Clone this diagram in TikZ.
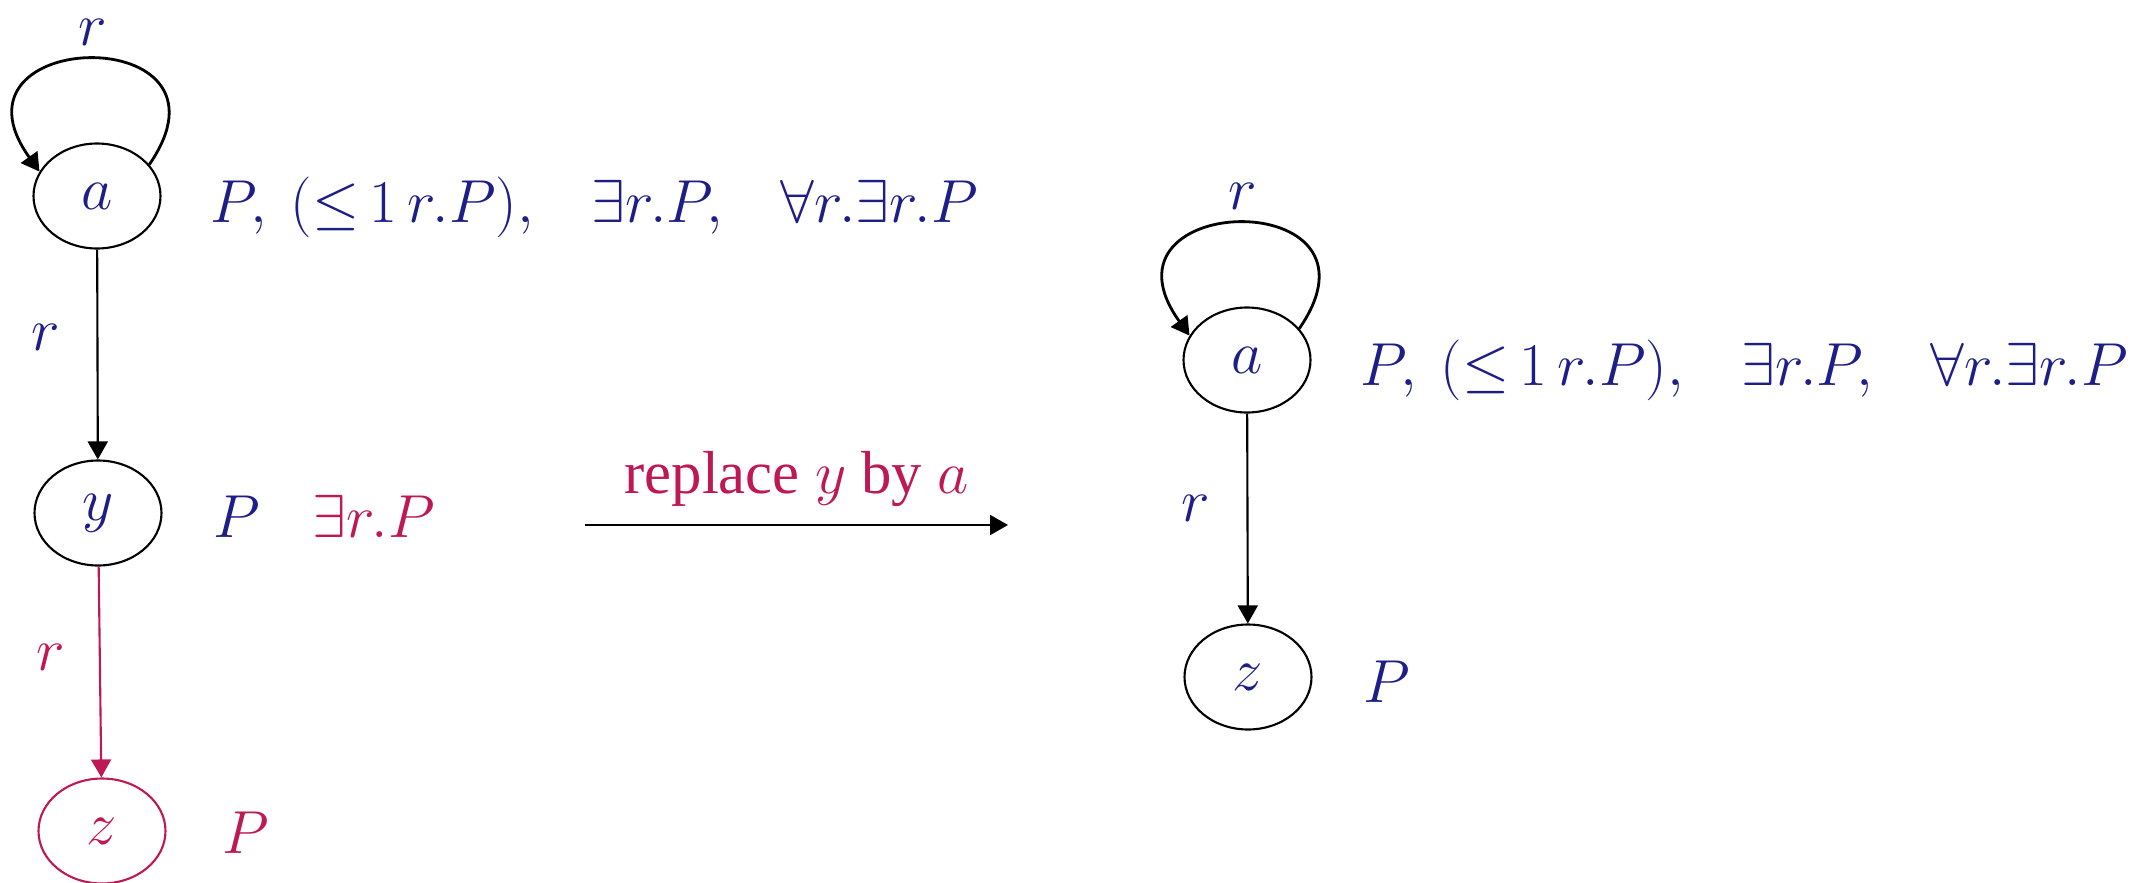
\documentclass[tikz,border=0pt]{standalone}
\usepackage[no-math]{fontspec}
\newfontfamily\rmtimes{Liberation Serif}
\usetikzlibrary{positioning, arrows.meta, shapes.geometric}
\definecolor{dlBlue}{RGB}{30, 30, 135}
\definecolor{dlRed}{RGB}{190, 25, 85}
\tikzset{
  indiv/.style={ellipse, draw, line width=0.6pt, minimum width=1.27cm,
                minimum height=1.05cm, inner sep=0pt, text=dlBlue},
  roleedge/.style={-{Triangle[length=0.18cm, width=0.2cm]}, line width=0.6pt},
  roleloop/.style={roleedge, line width=0.8pt},
  conlbl/.style={anchor=base west, inner sep=0pt, text=dlBlue},
  rolelbl/.style={inner sep=0pt, text=dlBlue},
}
\newcommand{\gapC}{\mskip14mu}
\newcommand{\conA}{$P,\mskip4mu ({\leq}\mskip3mu 1\,r.P),\gapC \exists r.P,\gapC \forall r.\exists r.P$}

\begin{document}
\begin{tikzpicture}[font=\fontsize{17.28}{21}\selectfont]
        \useasboundingbox (0, 0) rectangle (21.53, 8.82);

        % ── Before: a --r--> y --r--> z ─────────────────────────────────
        \node[indiv] (a1) at (0.97, 6.86) {$a$};
        \node[indiv] (y1) at (0.98, 3.69) {$y$};
        \node[indiv, draw=dlRed, text=dlRed] (z1) at (1.02, 0.51) {$z$};

        \draw[roleloop] (a1.31) .. controls +(1.00, 1.45) and +(-1.04, 1.45)
              .. node[rolelbl, above=0.12cm] {$r$} (a1.157);
        \draw[roleedge] (a1) -- node[rolelbl, pos=0.42, left=0.36cm] {$r$} (y1);
        \draw[roleedge, dlRed] (y1) -- node[rolelbl, text=dlRed, pos=0.43,
              left=0.34cm] {$r$} (z1);

        \node[conlbl] (a1C) at (2.10, 6.60) {\conA};
        \node[conlbl] (y1C) at (2.13, 3.45) {$P$};
        \node[conlbl, text=dlRed] (y1D) at (3.12, 3.45) {$\exists r.P$};
        \node[conlbl, text=dlRed] (z1C) at (2.22, 0.29) {$P$};

        % ── Merge step ───────────────────────────────────────────────────
        \coordinate (repS) at (5.85, 3.57);
        \coordinate (repE) at (10.08, 3.57);
        \draw[roleedge] (repS) -- node[above=0.17cm, inner sep=0pt, text=dlRed]
              {\rmtimes replace $y$ by $a$} (repE);

        % ── After: a --r--> z ────────────────────────────────────────────
        \node[indiv] (a2) at (12.47, 5.22) {$a$};
        \node[indiv] (z2) at (12.48, 2.05) {$z$};

        \draw[roleloop] (a2.31) .. controls +(1.00, 1.45) and +(-1.04, 1.45)
              .. node[rolelbl, above=0.12cm] {$r$} (a2.157);
        \draw[roleedge] (a2) -- node[rolelbl, pos=0.45, left=0.36cm] {$r$} (z2);

        \node[conlbl] (a2C) at (13.60, 4.97) {\conA};
        \node[conlbl] (z2C) at (13.63, 1.80) {$P$};
\end{tikzpicture}
\end{document}
